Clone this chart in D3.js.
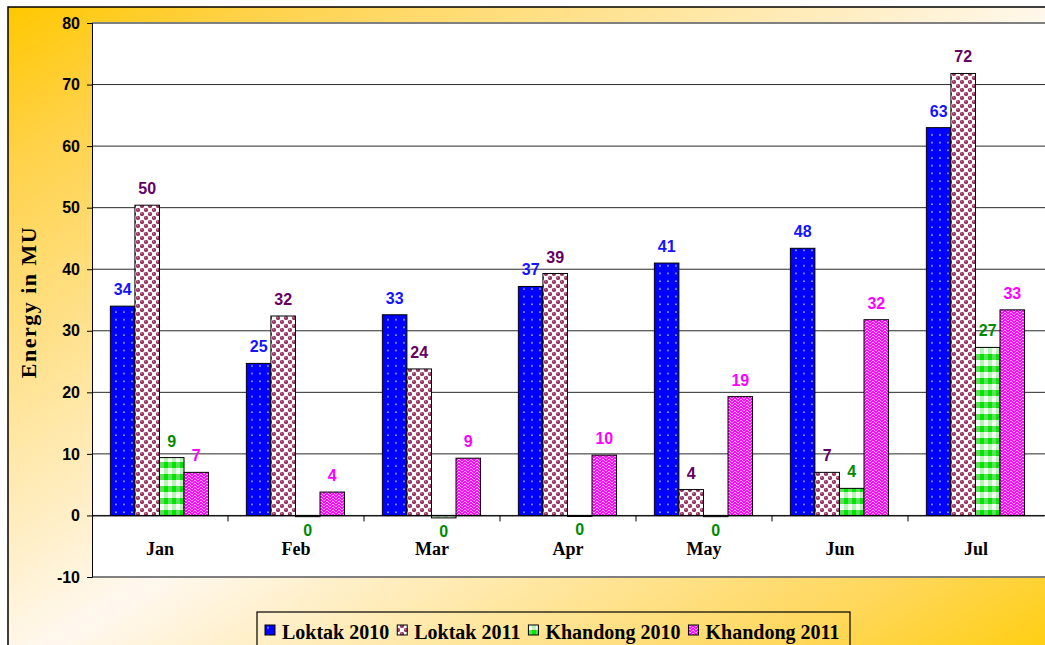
<!DOCTYPE html>
<html>
<head>
<meta charset="utf-8">
<script src="https://cdn.jsdelivr.net/npm/d3@7"></script>
<style>
  body { margin: 0; background: #fff; }
  svg { display: block; }
</style>
</head>
<body>
<div id="canvas"></div>
<script>
"use strict"

// chart data
let months = ["Jan", "Feb", "Mar", "Apr", "May", "Jun", "Jul"]
let seriesNames = ["Loktak 2010", "Loktak 2011", "Khandong 2010", "Khandong 2011"]
let loktak2010 = [34, 24.7, 32.6, 37.2, 41, 43.4, 63]
let loktak2011 = [50.4, 32.4, 23.8, 39.3, 4.2, 7, 71.8]
let khandong2010 = [9.4, -0.2, -0.4, -0.1, -0.2, 4.4, 27.3]
let khandong2011 = [7, 3.8, 9.3, 9.8, 19.3, 31.8, 33.4]
let jun2010Label = "48"
let yTicks = [-10, 0, 10, 20, 30, 40, 50, 60, 70, 80]

let svgWidth = 1045
let svgHeight = 645

let plot = { left: 92, right: 1044, top: 23, bottom: 577 }

let labelColors = ["#1414ff", "#660066", "#008a00", "#ff00ff"]

let svg = d3.select("#canvas")
    .append("svg")
    .attr("width", svgWidth)
    .attr("height", svgHeight)

let defs = svg.append("defs")

// background gradient (orange corners, cream in the middle)
let grad = defs.append("linearGradient")
    .attr("id", "bg")
    .attr("x1", 0).attr("y1", 0).attr("x2", 1).attr("y2", 1)
grad.append("stop").attr("offset", 0).attr("stop-color", "#ffc800")
grad.append("stop").attr("offset", 0.12).attr("stop-color", "#ffd24a")
grad.append("stop").attr("offset", 0.5).attr("stop-color", "#fff8ef")
grad.append("stop").attr("offset", 0.85).attr("stop-color", "#ffd75a")
grad.append("stop").attr("offset", 1).attr("stop-color", "#ffcc00")

// bar patterns
let p0 = defs.append("pattern").attr("id", "pat0")
    .attr("patternUnits", "userSpaceOnUse").attr("width", 8).attr("height", 7.7)
p0.append("rect").attr("width", 8).attr("height", 7.7).attr("fill", "#0000ff")
p0.append("circle").attr("cx", 4).attr("cy", 4).attr("r", 0.9).attr("fill", "#a8b8ff")

let p1 = defs.append("pattern").attr("id", "pat1")
    .attr("patternUnits", "userSpaceOnUse").attr("width", 8).attr("height", 8)
p1.append("rect").attr("width", 8).attr("height", 8).attr("fill", "#f6e4ec")
p1.append("rect").attr("x", 4).attr("y", 0).attr("width", 4).attr("height", 4).attr("fill", "#ffffff")
p1.append("rect").attr("x", 0).attr("y", 4).attr("width", 4).attr("height", 4).attr("fill", "#ffffff")
p1.append("circle").attr("cx", 2).attr("cy", 2).attr("r", 2.1).attr("fill", "#933560")
p1.append("circle").attr("cx", 6).attr("cy", 6).attr("r", 2.1).attr("fill", "#933560")
p1.append("circle").attr("cx", 1.5).attr("cy", 1.3).attr("r", 0.7).attr("fill", "#c98aa6")
p1.append("circle").attr("cx", 5.5).attr("cy", 5.3).attr("r", 0.7).attr("fill", "#c98aa6")

let p2 = defs.append("pattern").attr("id", "pat2")
    .attr("patternUnits", "userSpaceOnUse").attr("width", 8).attr("height", 12)
p2.append("rect").attr("width", 8).attr("height", 12).attr("fill", "#8ee88e")
p2.append("rect").attr("x", 0).attr("y", 0).attr("width", 4).attr("height", 6).attr("fill", "#f2fff2")
p2.append("rect").attr("x", 4).attr("y", 6).attr("width", 4).attr("height", 6).attr("fill", "#00e600")
p2.append("rect").attr("x", 4).attr("y", 0).attr("width", 4).attr("height", 6).attr("fill", "#b8f3b8")
p2.append("rect").attr("x", 0).attr("y", 6).attr("width", 4).attr("height", 6).attr("fill", "#5ee05e")

let p3 = defs.append("pattern").attr("id", "pat3")
    .attr("patternUnits", "userSpaceOnUse").attr("width", 6).attr("height", 6)
p3.append("rect").attr("width", 6).attr("height", 6).attr("fill", "#f20ff2")
p3.append("path").attr("d", "M0,3 L3,0 L6,3 M0,6 L3,3 L6,6")
    .attr("fill", "none").attr("stroke", "#ff9cff").attr("stroke-width", 1)

let patterns = ["url(#pat0)", "url(#pat1)", "url(#pat2)", "url(#pat3)"]

// chart area background and frame
svg.append("rect")
    .attr("x", 8).attr("y", 7)
    .attr("width", svgWidth + 20).attr("height", svgHeight + 20)
    .attr("fill", "url(#bg)")
    .attr("stroke", "#000")
    .attr("stroke-width", 1.5)

// plot area
svg.append("rect")
    .attr("x", plot.left).attr("y", plot.top)
    .attr("width", plot.right - plot.left + 5).attr("height", plot.bottom - plot.top)
    .attr("fill", "#fff")

// scales
let xScale = d3.scaleBand()
    .domain(months)
    .range([plot.left, plot.right])

let bw = xScale.bandwidth()
let xInner = d3.scaleBand()
    .domain(seriesNames)
    .range([bw * 0.135, bw * 0.857])

let yScale = d3.scaleLinear()
    .domain([-10, 80])
    .range([plot.bottom, plot.top])

// gridlines
svg.append("g")
    .selectAll("line")
    .data(yTicks.filter(d => d > -10 && d < 80))
    .join("line")
    .attr("x1", plot.left).attr("x2", svgWidth)
    .attr("y1", d => yScale(d)).attr("y2", d => yScale(d))
    .attr("stroke", "#2a2a2a")
    .attr("stroke-width", 1)

// plot border (top and bottom, grey)
svg.append("line")
    .attr("x1", plot.left).attr("x2", svgWidth)
    .attr("y1", yScale(80)).attr("y2", yScale(80))
    .attr("stroke", "#808080").attr("stroke-width", 2)
svg.append("line")
    .attr("x1", plot.left).attr("x2", svgWidth)
    .attr("y1", yScale(-10)).attr("y2", yScale(-10))
    .attr("stroke", "#808080").attr("stroke-width", 2)

// y axis
let yAxis = d3.axisLeft(yScale)
    .tickValues(yTicks)
    .tickSize(5)
    .tickPadding(7)
    .tickFormat(d => String(d))

let yAxisG = svg.append("g")
    .attr("transform", `translate(${plot.left},0)`)
    .call(yAxis)
yAxisG.select(".domain").attr("stroke", "#000")
yAxisG.selectAll("text")
    .attr("font-family", "'Liberation Sans', Arial, sans-serif")
    .attr("font-weight", "bold")
    .attr("font-size", 16)
    .attr("fill", "#000")

// y title
svg.append("text")
    .attr("transform", `translate(36,${(plot.top + plot.bottom) / 2 + 2}) rotate(-90)`)
    .attr("text-anchor", "middle")
    .attr("font-family", "'Liberation Serif', 'Times New Roman', serif")
    .attr("font-weight", "bold")
    .attr("font-size", 22)
    .attr("letter-spacing", 1.5)
    .text("Energy in MU")

// bars
let seriesValues = [loktak2010, loktak2011, khandong2010, khandong2011]
let barData = []
for (let s = 0; s < seriesNames.length; s++) {
    for (let m = 0; m < months.length; m++) {
        barData.push({ series: s, month: months[m], value: seriesValues[s][m] })
    }
}

let barGroup = svg.append("g")
barGroup.selectAll("rect")
    .data(barData)
    .join("rect")
    .attr("x", d => xScale(d.month) + xInner(seriesNames[d.series]))
    .attr("width", xInner.bandwidth())
    .attr("y", d => yScale(Math.max(0, d.value)))
    .attr("height", d => Math.max(1, Math.abs(yScale(d.value) - yScale(0))))
    .attr("fill", d => patterns[d.series])
    .attr("stroke", "#000")
    .attr("stroke-width", 1)

// x axis at zero
let xAxis = d3.axisBottom(xScale)
    .tickSize(0)
    .tickPadding(27)

let xAxisG = svg.append("g")
    .attr("transform", `translate(0,${yScale(0)})`)
    .call(xAxis)
xAxisG.select(".domain").attr("stroke", "#000")
xAxisG.selectAll("text")
    .attr("font-family", "'Liberation Serif', 'Times New Roman', serif")
    .attr("font-weight", "bold")
    .attr("font-size", 18)
    .attr("fill", "#000")

// separator ticks between months
xAxisG.selectAll("line.sep")
    .data(months.slice(1))
    .join("line")
    .attr("class", "sep")
    .attr("x1", d => xScale(d)).attr("x2", d => xScale(d))
    .attr("y1", 0).attr("y2", 6)
    .attr("stroke", "#000")

// value labels
svg.append("g")
    .selectAll("text")
    .data(barData)
    .join("text")
    .attr("x", d => xScale(d.month) + xInner(seriesNames[d.series]) + xInner.bandwidth() / 2)
    .attr("y", d => d.value >= 0 ? yScale(d.value) - 11 : yScale(d.value) + 19)
    .attr("text-anchor", "middle")
    .attr("font-family", "'Liberation Sans', Arial, sans-serif")
    .attr("font-weight", "bold")
    .attr("font-size", 16)
    .attr("fill", d => labelColors[d.series])
    .text(d => (d.series === 0 && d.month === "Jun") ? jun2010Label : String(Math.round(d.value)))

// legend: items laid out one after another
let legend = svg.append("g")
legend.append("rect")
    .attr("x", 257).attr("y", 612)
    .attr("width", 593).attr("height", 50)
    .attr("fill", "none")
    .attr("stroke", "#000")
    .attr("stroke-width", 1.2)

let cursor = 265
for (let i = 0; i < seriesNames.length; i++) {
    legend.append("rect")
        .attr("x", cursor).attr("y", 625)
        .attr("width", 10).attr("height", 10)
        .attr("fill", patterns[i])
        .attr("stroke", "#000")
        .attr("stroke-width", 1)
    let label = legend.append("text")
        .attr("x", cursor + 17).attr("y", 639)
        .attr("font-family", "'Liberation Serif', 'Times New Roman', serif")
        .attr("font-weight", "bold")
        .attr("font-size", 20)
        .attr("fill", "#000")
        .text(seriesNames[i])
    cursor = cursor + 17 + label.node().getComputedTextLength() + 8
}
</script>
</body>
</html>
